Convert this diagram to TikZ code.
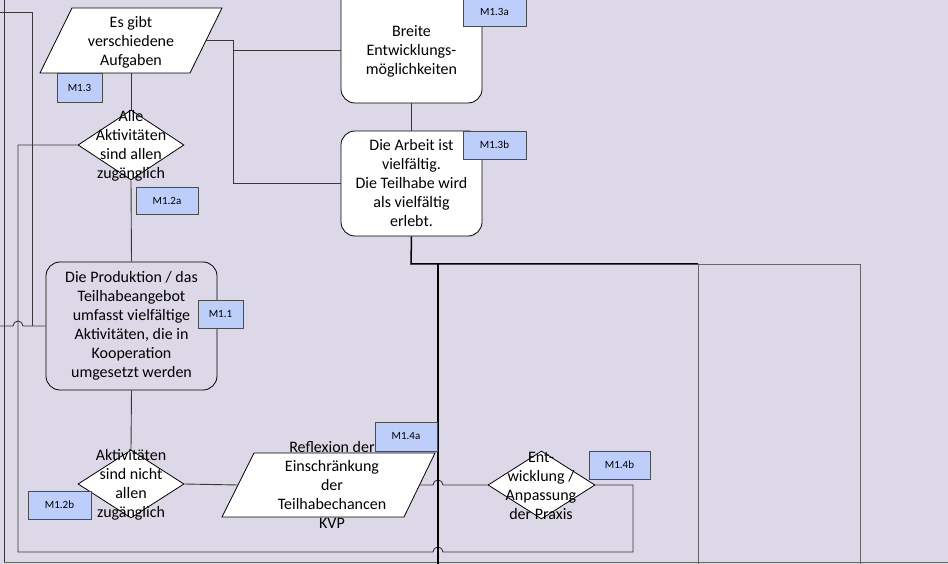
\documentclass[tikz,border=0pt]{standalone}
\usepackage{fontspec}
\setmainfont{Carlito}
\usetikzlibrary{shapes.geometric}
\definecolor{bgc}{RGB}{221,216,231}
\definecolor{labc}{RGB}{189,206,250}
\definecolor{linec}{RGB}{55,55,55}
\begin{document}
\begin{tikzpicture}[x=1pt,y=-1pt,
  conn/.style={draw=linec, line width=0.9pt},
  heavy/.style={draw=black, line width=1.5pt},
  thin/.style={draw=black!60, line width=0.9pt},
  txt/.style={align=center, inner sep=0pt, font=\fontsize{16}{19}\selectfont},
  shapeline/.style={draw=black, line width=0.8pt, fill=white},
  dia/.style={shapeline, shape=diamond, inner sep=0pt},
  rbox/.style={shapeline, rounded corners=14pt, align=center, inner sep=0pt, font=\fontsize{16}{19}\selectfont},
  lab/.style={draw=black!70, line width=0.8pt, fill=labc, inner sep=0pt, font=\fontsize{11}{12}\selectfont}
]
\useasboundingbox (0,0) rectangle (948,564);
\fill[bgc] (0,0) rectangle (948,564);

% frame lines on the left
\coordinate (fTop) at (4,0);
\coordinate (fCorner) at (4,562);
\coordinate (fRight) at (948,562);
\draw[conn] (fTop) -- (fCorner);
\draw[thin] (fCorner) -- (fRight);

% shapes
\draw[shapeline] (72,8) -- (222,8) -- (190,73) -- (40,73) -- cycle;
\coordinate (p1s) at (131,73);
\coordinate (p1e) at (206,40.5);
\node[txt] (p1) at (131,42) {Es gibt\\verschiedene\\Aufgaben};

\node[dia, minimum width=106pt, minimum height=70pt] (d1) at (131,145) {};
\node[txt] (d1t) at (131,145.5) {Alle\\Aktivitäten\\sind allen\\zugänglich};

\node[rbox, minimum width=141pt, minimum height=120pt] (b1) at (411.5,43) {};
\node[txt] (b1t) at (411.5,51) {Breite\\Entwicklungs-\\möglichkeiten};

\node[rbox, minimum width=141pt, minimum height=105pt] (b2) at (411.5,183.5) {Die Arbeit ist\\vielfältig.\\Die Teilhabe wird\\als vielfältig\\erlebt.};

\node[rbox, fill=bgc, minimum width=171pt, minimum height=128pt] (r1) at (131.5,326) {Die Produktion / das\\Teilhabeangebot\\umfasst vielfältige\\Aktivitäten, die in\\Kooperation\\umgesetzt werden};

\node[dia, minimum width=106pt, minimum height=68pt] (d2) at (131,484) {};
\node[txt] (d2t) at (131,485) {Aktivitäten\\sind nicht\\allen\\zugänglich};

\draw[shapeline] (254,453) -- (435,453) -- (404,517) -- (222,517) -- cycle;
\coordinate (p2w) at (238,485);
\coordinate (p2e) at (419.5,485);
\node[txt] (p2) at (332,485) {Reflexion der\\Einschränkung\\der\\Teilhabechancen\\KVP};

\node[dia, minimum width=107pt, minimum height=68pt] (d3) at (541.5,485) {};
\node[txt] (d3t) at (541,485.5) {Ent-\\wicklung /\\Anpassung\\der Praxis};

% connectors
\draw[conn] (p1s) -- (d1.north);
\draw[conn] (d1.south) -- (r1.north);
\draw[conn] (r1.south) -- (d2.north);
\draw[conn] (d2.east) -- (p2w);
\draw[conn] (p2e) -- (433,485) arc[start angle=180, end angle=0, radius=5pt] -- (d3.west);
\draw[conn] (d3.east) -- (633,485) -- (633,552) -- (443,552)
  arc[start angle=0, end angle=180, radius=5pt] -- (18,552) -- (18,145) -- (d1.west);
\draw[conn] (p1e) -- (233,40.5) -- (233,50) -- (b1.west |- 0,50);
\draw[conn] (233,50) -- (233,183.5) -- (b2.west);
\draw[conn] (b1.south) -- (b2.north);
\coordinate (jA) at (438,264);
\coordinate (jB) at (698,264);
\coordinate (jC) at (860,264);
\draw[heavy] (b2.south) -- (411,264) -- (jB);
\draw[heavy] (jA) -- (438,564);
\draw[thin] (jB) -- (jC) -- (860,564);
\draw[thin] (jB) -- (698,564);
\coordinate (tl) at (0,12);
\coordinate (ml) at (0,326);
\draw[conn] (tl) -- (32,12) -- (32,326);
\draw[conn] (ml) -- (13,326) arc[start angle=180, end angle=0, radius=5pt] -- (r1.west);

% labels
\node[lab, minimum width=45pt, minimum height=29pt] (l13) at (79.5,87.5) {M1.3};
\node[lab, minimum width=62pt, minimum height=27pt] (l12a) at (167,200.5) {M1.2a};
\node[lab, minimum width=63pt, minimum height=36pt] (l13a) at (494.5,8) {};
\node[font=\fontsize{11}{12}\selectfont, inner sep=0pt] (l13at) at (494.5,12) {M1.3a};
\node[lab, minimum width=63pt, minimum height=28pt] (l13b) at (494.5,145) {M1.3b};
\node[lab, minimum width=45pt, minimum height=28pt] (l11) at (220.5,314) {M1.1};
\node[lab, minimum width=63pt, minimum height=28pt] (l12b) at (59.5,505) {M1.2b};
\node[lab, minimum width=62pt, minimum height=29pt] (l14a) at (406,436.5) {M1.4a};
\node[lab, minimum width=61pt, minimum height=28pt] (l14b) at (619.5,465) {M1.4b};
\end{tikzpicture}
\end{document}
